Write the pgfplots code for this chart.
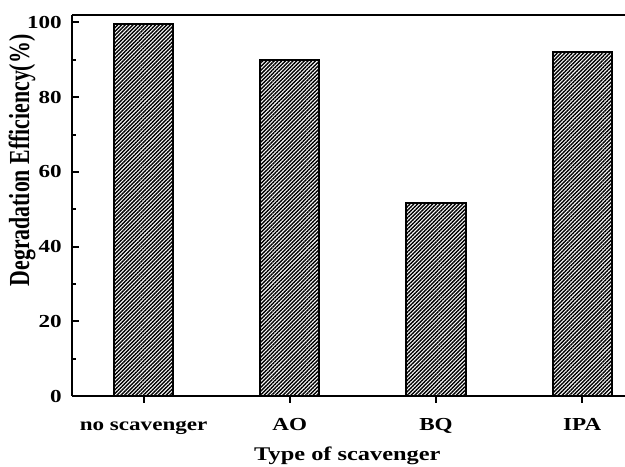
\documentclass[border=0pt]{standalone}
\usepackage{fontspec}
\setmainfont{Liberation Serif}[FakeStretch=1.26]
\newfontfamily\ylabfont{Liberation Serif}
\usepackage{pgfplots}
\pgfplotsset{compat=1.18}
\usetikzlibrary{patterns.meta}

\begin{document}
\begin{tikzpicture}
\begin{axis}[
  at={(43.2pt,42.6pt)}, anchor=south west,
  scale only axis, width=332.4pt, height=228.6pt,
  xmin=-0.49, xmax=3.3, ymin=0, ymax=102,
  axis x line*=box, axis y line*=left,
  axis line style={line width=1.6pt},
  xtick={0,1,2,3},
  xticklabels={no scavenger, AO, BQ, IPA},
  xtick pos=left,
  ytick={0,20,...,100},
  minor y tick num=1,
  xtick align=outside, ytick align=inside,
  major tick length=4.2pt, minor tick length=2.4pt,
  every tick/.style={black, line width=1.2pt},
  /pgf/number format/assume math mode=true,
  tick label style={font=\fontsize{11}{13}\selectfont\bfseries},
  yticklabel style={anchor=east, inner sep=0pt, xshift=-6pt},
  xticklabel style={anchor=base, inner sep=0pt, yshift=-16.8pt},
  xlabel={Type of scavenger},
  xlabel style={font=\fontsize{11.6}{14}\selectfont\bfseries,
    at={(axis description cs:0.497,0)}, anchor=base, yshift=-39pt, inner sep=0pt},
  ylabel={Degradation Efficiency(\%)},
  ylabel style={font=\ylabfont\fontsize{13.1}{15}\selectfont\bfseries,
    at={(axis description cs:-0.09,0.618)}, anchor=center, yscale=1.33, inner sep=0pt},
]
\addplot[ybar, bar width=0.404, draw=black, line width=1.2pt,
  pattern={Lines[angle=45,distance=1.6pt,line width=0.85pt]}, pattern color=black]
  coordinates {(0,99.5) (1,90) (2,51.8) (3,92)};
\end{axis}
\pgfresetboundingbox
\useasboundingbox (0,0) rectangle (375pt,280.2pt);
\end{tikzpicture}
\end{document}
